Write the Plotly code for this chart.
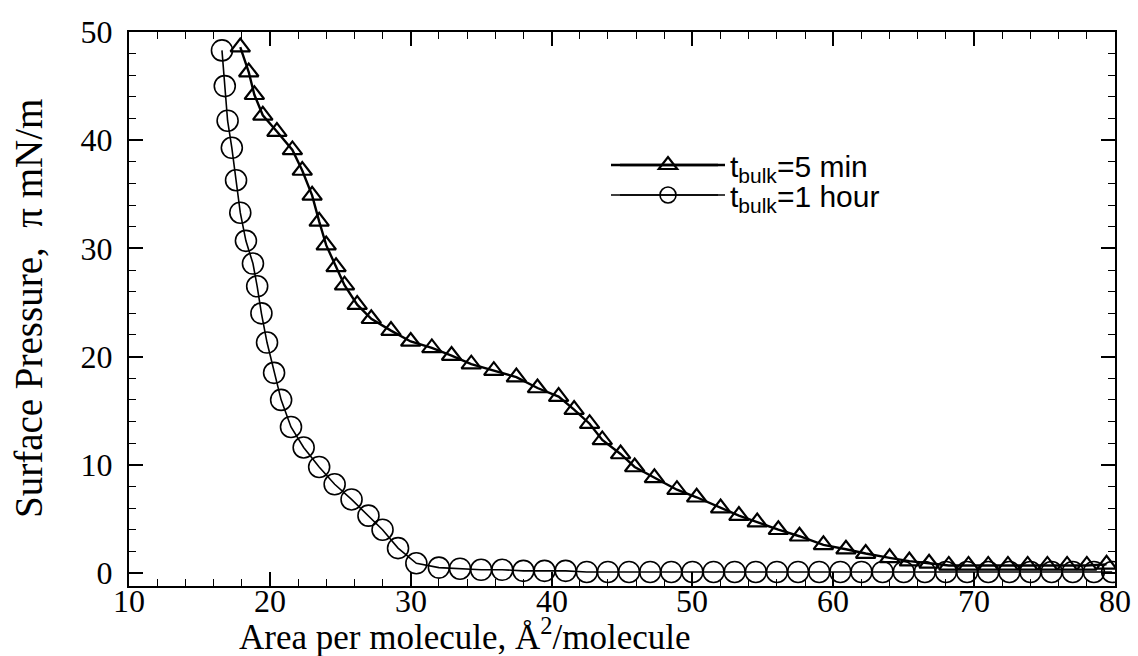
import plotly.graph_objects as go

# t_bulk = 5 min (triangles)
tri_x = [17.9, 18.5, 18.9, 19.5, 20.5, 21.6, 22.3, 23.0, 23.5, 24.0, 24.7, 25.3, 26.2, 27.2,
         28.6, 30.0, 31.5, 32.9, 34.3, 35.9, 37.5, 39.0, 40.5, 41.6, 42.7, 43.6, 44.9, 45.9,
         47.3, 48.9, 50.3, 52.0, 53.3, 54.6, 56.1, 57.6, 59.3, 60.9, 62.3, 64.0, 65.4, 66.8,
         68.2, 69.6, 71.0, 72.4, 73.8, 75.2, 76.6, 78.0, 79.4]
tri_y = [48.6, 46.3, 44.2, 42.3, 40.8, 39.1, 37.2, 34.9, 32.5, 30.3, 28.3, 26.6, 24.8, 23.5,
         22.4, 21.4, 20.8, 20.1, 19.3, 18.7, 18.1, 17.1, 16.3, 15.1, 13.8, 12.3, 11.0, 9.8,
         8.8, 7.7, 7.0, 6.0, 5.3, 4.7, 4.0, 3.4, 2.6, 2.2, 1.8, 1.4, 1.1, 0.9,
         0.7, 0.7, 0.7, 0.7, 0.7, 0.7, 0.7, 0.7, 0.8]

# t_bulk = 1 hour (circles)
cir_x = [16.6, 16.8, 17.0, 17.3, 17.6, 17.9, 18.3, 18.8, 19.1, 19.4, 19.8, 20.3, 20.8, 21.5,
         22.4, 23.5, 24.6, 25.8, 27.0, 28.0, 29.1, 30.4, 32.0, 33.5, 35.0, 36.5, 38.0, 39.5,
         41.0, 42.5, 44.0, 45.5, 47.0, 48.5, 50.0, 51.5, 53.0, 54.5, 56.0, 57.5, 59.0, 60.5,
         62.0, 63.5, 65.0, 66.5, 68.0, 69.5, 71.0, 72.5, 74.0, 75.5, 77.0, 78.5, 79.8]
cir_y = [48.3, 45.0, 41.8, 39.3, 36.3, 33.3, 30.7, 28.6, 26.5, 24.0, 21.3, 18.5, 16.0, 13.5,
         11.6, 9.8, 8.2, 6.8, 5.3, 4.0, 2.3, 0.9, 0.5, 0.4, 0.3, 0.3, 0.2, 0.2,
         0.2, 0.1, 0.1, 0.1, 0.1, 0.1, 0.1, 0.1, 0.1, 0.1, 0.1, 0.1, 0.1, 0.1,
         0.1, 0.1, 0.1, 0.1, 0.1, 0.1, 0.1, 0.1, 0.1, 0.1, 0.1, 0.1, 0.1]

x_ticks = [10, 20, 30, 40, 50, 60, 70, 80]
y_ticks = [0, 10, 20, 30, 40, 50]

TRI_W = 2.4
CIR_W = 1.6

fig = go.Figure()
fig.add_trace(go.Scatter(
    x=tri_x, y=tri_y, mode="lines+markers", name="t<sub>bulk</sub>=5 min", legend="legend",
    line=dict(color="black", width=TRI_W),
    marker=dict(symbol="triangle-up-open", size=17, color="black", line=dict(width=2.2)),
))
fig.add_trace(go.Scatter(
    x=cir_x, y=cir_y, mode="lines+markers", name="t<sub>bulk</sub>=1 hour", legend="legend2",
    line=dict(color="black", width=CIR_W),
    marker=dict(symbol="circle-open", size=21, color="black", line=dict(width=CIR_W)),
))

axis_common = dict(
    showgrid=False, zeroline=False, showline=True, linecolor="black", linewidth=2,
    mirror="ticks", ticks="inside", ticklen=14, tickwidth=1.5, tickcolor="black",
    tickfont=dict(family="Liberation Serif", size=32, color="black"),
)
fig.update_xaxes(range=[10, 80], tickvals=x_ticks, showticklabels=False,
                 minor=dict(dtick=2, ticks="inside", ticklen=7, tickcolor="black", tickwidth=1),
                 **axis_common)
fig.update_yaxes(range=[-1.2, 50], tickvals=y_ticks, ticktext=[str(v) for v in y_ticks],
                 minor=dict(dtick=2, ticks="inside", ticklen=7, tickcolor="black", tickwidth=1),
                 ticklabelstandoff=8, **axis_common)

# x tick labels placed close under the axis line
for v in x_ticks:
    fig.add_annotation(text=str(v), x=v, xref="x", y=-0.0271, yref="paper",
                       xanchor="center", yanchor="middle", showarrow=False,
                       font=dict(family="Liberation Serif", size=32, color="black"))

fig.add_annotation(text="Area per molecule, Å<sup>2</sup>/molecule", xref="paper", yref="paper",
                   x=(465 - 129) / 986, y=-0.0884, xanchor="center", yanchor="middle", showarrow=False,
                   font=dict(family="Liberation Serif", size=35, color="black"))
fig.add_annotation(text="Surface Pressure,  π mN/m", xref="paper", yref="paper",
                   x=-0.1024, y=0.5, xanchor="center", yanchor="middle", showarrow=False, textangle=-90,
                   font=dict(family="Liberation Serif", size=39, color="black"))

# longer legend sample lines (legend decoration)
row1_y = (586 - 165) / 554
row2_y = (586 - 195) / 554
lx0 = (620 - 129) / 986
lx1 = (718 - 129) / 986
fig.add_shape(type="line", xref="paper", yref="paper", x0=lx0, x1=lx1, y0=row1_y, y1=row1_y,
              line=dict(color="black", width=TRI_W))
fig.add_shape(type="line", xref="paper", yref="paper", x0=lx0, x1=lx1, y0=row2_y, y1=row2_y,
              line=dict(color="black", width=CIR_W))

legend_common = dict(xanchor="left", yanchor="middle", bgcolor="rgba(0,0,0,0)", itemwidth=114,
                     font=dict(family="Liberation Sans", size=30, color="black"))
fig.update_layout(
    width=1138, height=656,
    margin=dict(l=129, r=23, t=32, b=70),
    paper_bgcolor="white", plot_bgcolor="white",
    showlegend=True,
    legend=dict(x=(606 - 129) / 986, y=row1_y, **legend_common),
    legend2=dict(x=(606 - 129) / 986, y=row2_y, **legend_common),
)

fig.write_html("out.html")
